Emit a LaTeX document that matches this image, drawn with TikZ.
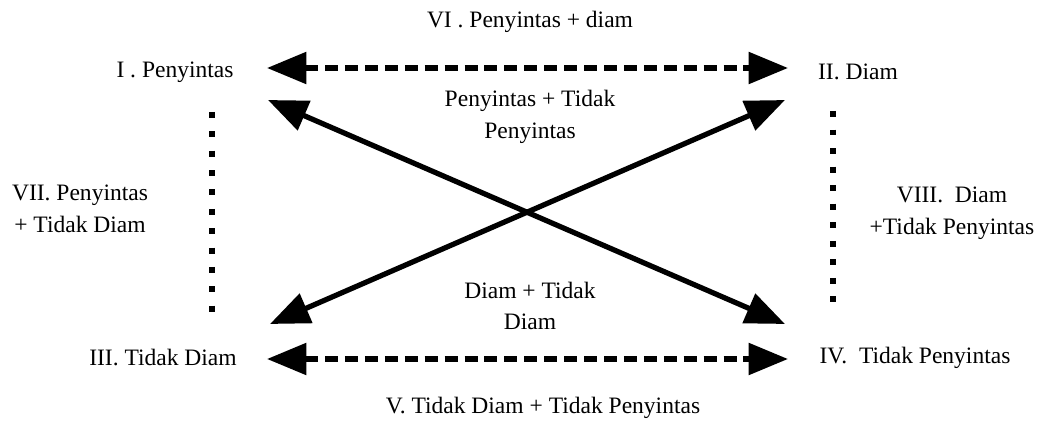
\documentclass[tikz,border=0pt]{standalone}
\usepackage{fontspec}
\setmainfont{Liberation Serif}
\usetikzlibrary{arrows.meta}

\tikzset{
  txt/.style={align=center, inner sep=0pt, font=\fontsize{17}{23}\selectfont},
  tri/.tip={Triangle[length=28.5pt, width=22.5pt]},
  dbl/.style={tri-tri, line width=3.8pt},
  dashline/.style={dbl, dash pattern=on 9.4pt off 5pt},
  dotline/.style={line width=4.3pt, dash pattern=on 4.3pt off 9.7pt},
}

\begin{document}
\begin{tikzpicture}[x=0.254mm, y=-0.254mm]
      \useasboundingbox (0, 0) rectangle (1041, 424);
      % corner labels
      \node[txt](pen) at (175, 72) {I . Penyintas};
      \node[txt](dia) at (858, 72) {II. Diam};
      \node[txt](tdia) at (163, 358) {III. Tidak Diam};
      \node[txt](tpen) at (915, 358) {IV.\ \ Tidak Penyintas};
      % pair labels
      \node[txt](six) at (530, 22) {VI . Penyintas + diam};
      \node[txt](five) at (543, 408) {V. Tidak Diam + Tidak Penyintas};
      \node[txt](seven) at (80, 209) {VII. Penyintas\\+ Tidak Diam};
      \node[txt](eight) at (952, 213) {VIII.\ \ Diam\\+Tidak Penyintas};
      \node[txt](mtop) at (530, 117) {Penyintas + Tidak\\Penyintas};
      \node[txt](mbot) at (530, 306) {Diam + Tidak\\Diam};
      % arrow ends
      \coordinate (a1) at (267, 68);
      \coordinate (a2) at (788, 68);
      \coordinate (b1) at (267, 359);
      \coordinate (b2) at (788, 359);
      \coordinate (c1) at (268, 100);
      \coordinate (c2) at (785, 324);
      \coordinate (d1) at (270, 324);
      \coordinate (d2) at (785, 100);
      \coordinate (l1) at (212, 112);
      \coordinate (l2) at (212, 313);
      \coordinate (r1) at (833, 111);
      \coordinate (r2) at (833, 304);
      % dashed pairs
      \draw[dashline] (a1)--(a2);
      \draw[dashline] (b1)--(b2);
      % crossing pairs
      \draw[dbl] (c1)--(c2);
      \draw[dbl] (d1)--(d2);
      % dotted sides
      \draw[dotline] (l1)--(l2);
      \draw[dotline, dash pattern=on 4.3pt off 9.1pt] (r1)--(r2);
    \end{tikzpicture}
\end{document}
